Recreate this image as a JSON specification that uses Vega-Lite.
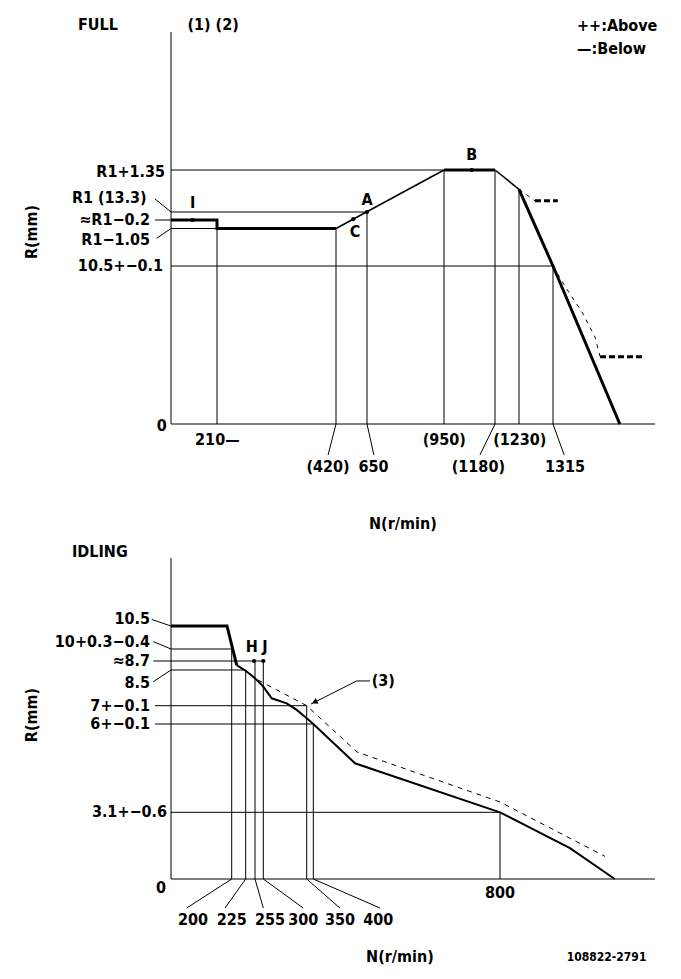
{
  "$schema": "https://vega.github.io/schema/vega-lite/v6.json",
  "padding": 0,
  "spacing": 0,
  "background": "white",
  "resolve": {"scale": {"x": "independent", "y": "independent"}},
  "config": {
    "view": {"stroke": null},
    "text": {"font": "Liberation Sans Narrow, DejaVu Sans Condensed, Liberation Sans", "fontWeight": "bold", "fontSize": 16, "baseline": "middle", "color": "black"},
    "rule": {"color": "black", "strokeWidth": 1},
    "line": {"color": "black"}
  },
  "datasets": {
    "top_rules": [
      {"x": 0, "y": 0, "x2": 0, "y2": 19.1},
      {"x": 0, "y": 0, "x2": 1570, "y2": 0},
      {"x": 0, "y": 14.65, "x2": 950, "y2": 14.65},
      {"x": 0, "y": 13.3, "x2": 650, "y2": 13.3},
      {"x": 0, "y": 12.25, "x2": 210, "y2": 12.25},
      {"x": 0, "y": 10.5, "x2": 1315, "y2": 10.5},
      {"x": 210, "y": 0, "x2": 210, "y2": 12.25},
      {"x": 420, "y": 0, "x2": 420, "y2": 12.25},
      {"x": 650, "y": 0, "x2": 650, "y2": 13.3},
      {"x": 950, "y": 0, "x2": 950, "y2": 14.65},
      {"x": 1180, "y": 0, "x2": 1180, "y2": 14.65},
      {"x": 1230, "y": 0, "x2": 1230, "y2": 14.03},
      {"x": 1315, "y": 0, "x2": 1315, "y2": 10.5},
      {"x": -80, "y": 13.72, "x2": 0, "y2": 13.3},
      {"x": -80, "y": 13.1, "x2": 0, "y2": 13.1},
      {"x": -72, "y": 11.79, "x2": 0, "y2": 12.25},
      {"x": 420, "y": 0, "x2": 406, "y2": -2.07},
      {"x": 650, "y": 0, "x2": 677, "y2": -2.07},
      {"x": 1180, "y": 0, "x2": 1112, "y2": -2.07},
      {"x": 1315, "y": 0, "x2": 1343, "y2": -2.07}
    ],
    "top_thick": [
      {"s": 1, "i": 1, "x": 0, "y": 13.1},
      {"s": 1, "i": 2, "x": 210, "y": 13.1},
      {"s": 1, "i": 3, "x": 210, "y": 12.25},
      {"s": 1, "i": 4, "x": 420, "y": 12.25},
      {"s": 2, "i": 1, "x": 950, "y": 14.65},
      {"s": 2, "i": 2, "x": 1180, "y": 14.65},
      {"s": 3, "i": 1, "x": 1230, "y": 14.03},
      {"s": 3, "i": 2, "x": 1315, "y": 10.5},
      {"s": 3, "i": 3, "x": 1482, "y": 0}
    ],
    "top_thin": [
      {"s": 4, "i": 1, "x": 420, "y": 12.25},
      {"s": 4, "i": 2, "x": 950, "y": 14.65},
      {"s": 5, "i": 1, "x": 1180, "y": 14.65},
      {"s": 5, "i": 2, "x": 1230, "y": 14.03}
    ],
    "top_dash_thin": [
      {"s": 1, "i": 1, "x": 1230, "y": 14.03},
      {"s": 1, "i": 2, "x": 1270, "y": 13.66},
      {"s": 2, "i": 1, "x": 1315, "y": 10.5},
      {"s": 2, "i": 2, "x": 1347.5, "y": 9.04},
      {"s": 2, "i": 3, "x": 1387.5, "y": 7.44},
      {"s": 2, "i": 4, "x": 1420, "y": 5.78},
      {"s": 2, "i": 5, "x": 1432.5, "y": 4.5}
    ],
    "top_dash_thick": [
      {"s": 1, "i": 1, "x": 1270, "y": 13.66},
      {"s": 1, "i": 2, "x": 1327, "y": 13.66},
      {"s": 2, "i": 1, "x": 1432.5, "y": 4.47},
      {"s": 2, "i": 2, "x": 1542.5, "y": 4.47}
    ],
    "top_dots": [
      {"x": 99, "y": 13.1},
      {"x": 650, "y": 13.3},
      {"x": 548, "y": 13.12},
      {"x": 1075, "y": 14.65}
    ],
    "top_text_r": [
      {"t": "R1+1.35", "x": -30, "y": 14.6},
      {"t": "R1 (13.3)", "x": -121.5, "y": 13.74},
      {"t": "≈R1−0.2", "x": -105, "y": 13.1},
      {"t": "R1−1.05", "x": -105, "y": 11.71},
      {"t": "10.5+−0.1", "x": -40, "y": 10.5}
    ],
    "top_text_l": [
      {"t": "FULL", "x": -465, "y": 19.32},
      {"t": "++:Above", "x": 1375, "y": 19.29},
      {"t": "—:Below", "x": 1375, "y": 18.55},
      {"t": "210—", "x": 110, "y": -1.07}
    ],
    "top_text_c": [
      {"t": "(1) (2)", "x": 192, "y": 19.32},
      {"t": "I", "x": 99, "y": 13.58},
      {"t": "A", "x": 650, "y": 13.69},
      {"t": "C", "x": 561, "y": 12.1},
      {"t": "B", "x": 1075, "y": 15.13},
      {"t": "0", "x": -46, "y": -0.13},
      {"t": "(420)", "x": 406, "y": -2.85},
      {"t": "650", "x": 675, "y": -2.85},
      {"t": "(950)", "x": 951, "y": -1.07},
      {"t": "(1180)", "x": 1105, "y": -2.85},
      {"t": "(1230)", "x": 1232, "y": -1.07},
      {"t": "1315", "x": 1345, "y": -2.85},
      {"t": "N(r/min)", "x": 790, "y": -6.67}
    ],
    "top_text_rot": [
      {"t": "R(mm)", "x": -695, "y": 12.09}
    ],
    "bot_rules": [
      {"x": 0, "y": 0, "x2": 0, "y2": 13.59},
      {"x": 0, "y": 0, "x2": 1132, "y2": 0},
      {"x": 0, "y": 10, "x2": 200, "y2": 10},
      {"x": -88.5, "y": 8.7, "x2": 300, "y2": 8.7},
      {"x": 0, "y": 8.5, "x2": 225, "y2": 8.5},
      {"x": -80, "y": 7, "x2": 350, "y2": 7},
      {"x": -80, "y": 6, "x2": 400, "y2": 6},
      {"x": 0, "y": 3.1, "x2": 800, "y2": 3.1},
      {"x": 200, "y": 0, "x2": 200, "y2": 10},
      {"x": 225, "y": 0, "x2": 225, "y2": 8.5},
      {"x": 255, "y": 0, "x2": 255, "y2": 8.7},
      {"x": 300, "y": 0, "x2": 300, "y2": 8.7},
      {"x": 350, "y": 0, "x2": 350, "y2": 7},
      {"x": 400, "y": 0, "x2": 400, "y2": 6},
      {"x": 800, "y": 0, "x2": 800, "y2": 3.1},
      {"x": -96.5, "y": 10.8, "x2": 0, "y2": 10.5},
      {"x": -88.5, "y": 10.16, "x2": 0, "y2": 10},
      {"x": -88.5, "y": 8.01, "x2": 0, "y2": 8.5},
      {"x": 200, "y": 0, "x2": 51.7, "y2": -1.35},
      {"x": 225, "y": 0, "x2": 177.9, "y2": -1.35},
      {"x": 255, "y": 0, "x2": 300, "y2": -1.35},
      {"x": 300, "y": 0, "x2": 346, "y2": -1.35},
      {"x": 350, "y": 0, "x2": 457, "y2": -1.35},
      {"x": 400, "y": 0, "x2": 543, "y2": -1.35},
      {"x": 382.6, "y": 7.07, "x2": 493, "y2": 8.04},
      {"x": 493, "y": 8.04, "x2": 521.5, "y2": 8.04}
    ],
    "bot_thick": [
      {"s": 1, "i": 1, "x": 0, "y": 10.5},
      {"s": 1, "i": 2, "x": 184.5, "y": 10.5},
      {"s": 1, "i": 3, "x": 208.9, "y": 8.61}
    ],
    "bot_thin": [
      {"s": 1, "i": 1, "x": 208.9, "y": 8.61},
      {"s": 1, "i": 2, "x": 225, "y": 8.47},
      {"s": 1, "i": 3, "x": 255, "y": 8.15},
      {"s": 1, "i": 4, "x": 300, "y": 7.8},
      {"s": 1, "i": 5, "x": 309.7, "y": 7.31},
      {"s": 1, "i": 6, "x": 327, "y": 7.1},
      {"s": 1, "i": 7, "x": 338.5, "y": 6.77},
      {"s": 1, "i": 8, "x": 350, "y": 6.31},
      {"s": 1, "i": 9, "x": 400, "y": 6.0},
      {"s": 1, "i": 10, "x": 489.3, "y": 4.71},
      {"s": 1, "i": 11, "x": 800, "y": 3.1},
      {"s": 1, "i": 12, "x": 950, "y": 1.43},
      {"s": 1, "i": 13, "x": 1046, "y": 0}
    ],
    "bot_dash": [
      {"s": 1, "i": 1, "x": 271, "y": 8.08},
      {"s": 1, "i": 2, "x": 350, "y": 7.0},
      {"s": 1, "i": 3, "x": 493.6, "y": 5.08},
      {"s": 1, "i": 4, "x": 800, "y": 3.44},
      {"s": 1, "i": 5, "x": 1025, "y": 1.05}
    ],
    "bot_dots": [
      {"x": 252, "y": 8.7},
      {"x": 300, "y": 8.7}
    ],
    "bot_arrow": [
      {"x": 402.8, "y": 7.15}
    ],
    "bot_text_r": [
      {"t": "10.5", "x": -105, "y": 10.82},
      {"t": "10+0.3−0.4", "x": -105, "y": 10.16},
      {"t": "≈8.7", "x": -105, "y": 8.7},
      {"t": "8.5", "x": -105, "y": 7.97},
      {"t": "7+−0.1", "x": -105, "y": 7},
      {"t": "6+−0.1", "x": -105, "y": 6},
      {"t": "3.1+−0.6", "x": -20, "y": 3.1}
    ],
    "bot_text_l": [
      {"t": "IDLING", "x": -495, "y": 13.86}
    ],
    "bot_text_c": [
      {"t": "H", "x": 244.4, "y": 10.05},
      {"t": "J", "x": 302, "y": 10.05},
      {"t": "(3)", "x": 550, "y": 8.04},
      {"t": "0", "x": -50, "y": -0.42},
      {"t": "800", "x": 800, "y": -0.65},
      {"t": "200", "x": 72.5, "y": -1.91},
      {"t": "225", "x": 200, "y": -1.91},
      {"t": "255", "x": 307.7, "y": -1.91},
      {"t": "300", "x": 346, "y": -1.91},
      {"t": "350", "x": 457, "y": -1.91},
      {"t": "400", "x": 539, "y": -1.91},
      {"t": "N(r/min)", "x": 585.7, "y": -3.61}
    ],
    "bot_text_small": [
      {"t": "108822-2791", "x": 1028.5, "y": -3.61}
    ],
    "bot_text_rot": [
      {"t": "R(mm)", "x": -695, "y": 6.49}
    ]
  },
  "vconcat": [
    {
      "width": 681,
      "height": 540,
      "encoding": {
        "x": {"field": "x", "type": "quantitative", "axis": null,
              "scale": {"type": "linear", "zero": false, "nice": false,
                        "domain": [-855, 0, 210, 420, 650, 950, 1180, 1230, 1315, 1570, 1700],
                        "range": [0, 171, 217, 336, 367, 444, 495, 519, 553, 655, 681]}},
        "y": {"field": "y", "type": "quantitative", "axis": null,
              "scale": {"type": "linear", "zero": false, "nice": false,
                        "domain": [-8, 0, 10.5, 12.25, 13.1, 13.3, 14.65, 19.1, 20.1],
                        "range": [544, 424, 266, 228.5, 220, 212, 170, 32, 0]}}
      },
      "layer": [
        {"data": {"name": "top_rules"}, "mark": {"type": "rule"},
         "encoding": {"x2": {"field": "x2"}, "y2": {"field": "y2"}}},
        {"data": {"name": "top_thin"}, "mark": {"type": "line", "strokeWidth": 1.6},
         "encoding": {"detail": {"field": "s"}, "order": {"field": "i"}}},
        {"data": {"name": "top_thick"}, "mark": {"type": "line", "strokeWidth": 3},
         "encoding": {"detail": {"field": "s"}, "order": {"field": "i"}}},
        {"data": {"name": "top_dash_thin"}, "mark": {"type": "line", "strokeWidth": 1, "strokeDash": [4, 5]},
         "encoding": {"detail": {"field": "s"}, "order": {"field": "i"}}},
        {"data": {"name": "top_dash_thick"}, "mark": {"type": "line", "strokeWidth": 3, "strokeDash": [6, 3]},
         "encoding": {"detail": {"field": "s"}, "order": {"field": "i"}}},
        {"data": {"name": "top_dots"}, "mark": {"type": "point", "filled": true, "size": 18, "color": "black", "opacity": 1}},
        {"data": {"name": "top_text_r"}, "mark": {"type": "text", "align": "right"},
         "encoding": {"text": {"field": "t"}}},
        {"data": {"name": "top_text_l"}, "mark": {"type": "text", "align": "left"},
         "encoding": {"text": {"field": "t"}}},
        {"data": {"name": "top_text_c"}, "mark": {"type": "text", "align": "center"},
         "encoding": {"text": {"field": "t"}}},
        {"data": {"name": "top_text_rot"}, "mark": {"type": "text", "align": "center", "angle": 270},
         "encoding": {"text": {"field": "t"}}}
      ]
    },
    {
      "width": 681,
      "height": 439,
      "encoding": {
        "x": {"field": "x", "type": "quantitative", "axis": null,
              "scale": {"type": "linear", "zero": false, "nice": false,
                        "domain": [-855, 0, 200, 225, 255, 300, 350, 400, 800, 1188],
                        "range": [0, 171, 231.7, 245.7, 255, 263.3, 306.7, 313.3, 500, 681]}},
        "y": {"field": "y", "type": "quantitative", "axis": null,
              "scale": {"type": "linear", "zero": false, "nice": false,
                        "domain": [-4.65, 0, 3.1, 6, 7, 8.5, 8.7, 10, 10.5, 14.41],
                        "range": [439, 339, 272.3, 184, 165.7, 130, 121, 109, 86, 0]}}
      },
      "layer": [
        {"data": {"name": "bot_rules"}, "mark": {"type": "rule"},
         "encoding": {"x2": {"field": "x2"}, "y2": {"field": "y2"}}},
        {"data": {"name": "bot_thin"}, "mark": {"type": "line", "strokeWidth": 2},
         "encoding": {"detail": {"field": "s"}, "order": {"field": "i"}}},
        {"data": {"name": "bot_thick"}, "mark": {"type": "line", "strokeWidth": 3},
         "encoding": {"detail": {"field": "s"}, "order": {"field": "i"}}},
        {"data": {"name": "bot_dash"}, "mark": {"type": "line", "strokeWidth": 1, "strokeDash": [5, 5]},
         "encoding": {"detail": {"field": "s"}, "order": {"field": "i"}}},
        {"data": {"name": "bot_dots"}, "mark": {"type": "point", "filled": true, "size": 18, "color": "black", "opacity": 1}},
        {"data": {"name": "bot_arrow"}, "mark": {"type": "point", "shape": "triangle-up", "filled": true, "size": 40, "color": "black", "opacity": 1, "angle": 243}},
        {"data": {"name": "bot_text_r"}, "mark": {"type": "text", "align": "right"},
         "encoding": {"text": {"field": "t"}}},
        {"data": {"name": "bot_text_l"}, "mark": {"type": "text", "align": "left"},
         "encoding": {"text": {"field": "t"}}},
        {"data": {"name": "bot_text_c"}, "mark": {"type": "text", "align": "center"},
         "encoding": {"text": {"field": "t"}}},
        {"data": {"name": "bot_text_small"}, "mark": {"type": "text", "align": "center", "fontSize": 12},
         "encoding": {"text": {"field": "t"}}},
        {"data": {"name": "bot_text_rot"}, "mark": {"type": "text", "align": "center", "angle": 270},
         "encoding": {"text": {"field": "t"}}}
      ]
    }
  ]
}
